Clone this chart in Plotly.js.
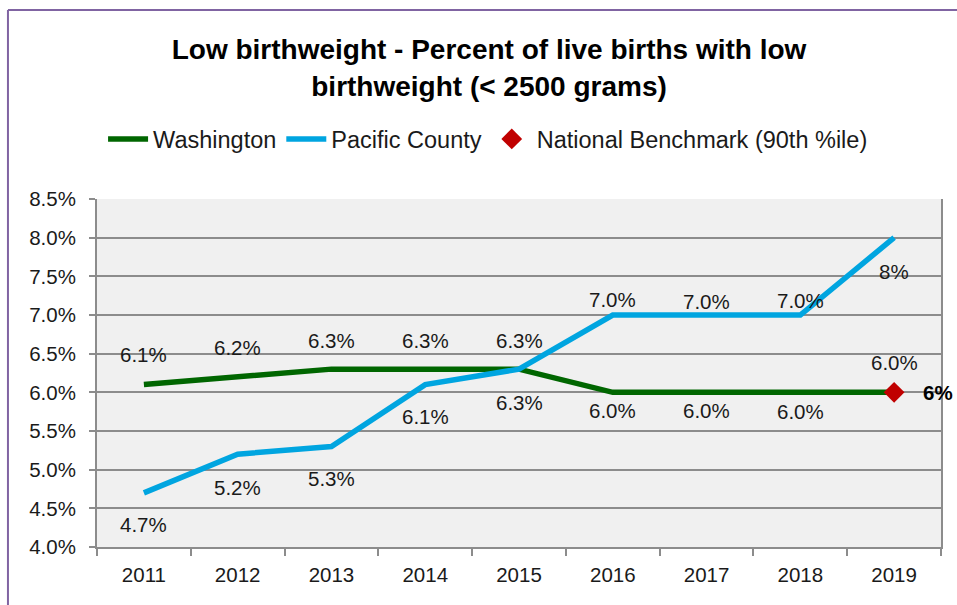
<!DOCTYPE html>
<html>
<head>
<meta charset="utf-8">
<script src="https://cdn.plot.ly/plotly-3.0.1.min.js"></script>
<style>
  html, body { margin: 0; padding: 0; background: #ffffff; }
  #chart { width: 957px; height: 605px; }
</style>
</head>
<body>
<div id="chart"></div>
<script>
// ---- data ----
const years = [2011, 2012, 2013, 2014, 2015, 2016, 2017, 2018, 2019];
const yearLabels = ["2011", "2012", "2013", "2014", "2015", "2016", "2017", "2018", "2019"];
const washington = [6.1, 6.2, 6.3, 6.3, 6.3, 6.0, 6.0, 6.0, 6.0];
const pacific = [4.7, 5.2, 5.3, 6.1, 6.3, 7.0, 7.0, 7.0, 8.0];
const washingtonLabels = ["6.1%", "6.2%", "6.3%", "6.3%", "6.3%", "6.0%", "6.0%", "6.0%", "6.0%"];
const pacificLabels = ["4.7%", "5.2%", "5.3%", "6.1%", "6.3%", "7.0%", "7.0%", "7.0%", "8%"];
const benchmarkYear = [2019];
const benchmarkValue = [6.0];
const benchmarkLabel = ["6%"];

// ---- label placement (style, not data) ----
const washingtonShift = [30, 29, 29, 29, 29, -18, -18, -19, 30];
const pacificShift = [-32, -33, -32, -32, -33, 16, 14, 15, -34];

const FONT = '"Liberation Sans", Arial, sans-serif';
const TXT = '#1a1a1a';
const LBL = 20.5;

const traces = [
  {
    x: years, y: washington, name: 'Washington', type: 'scatter', mode: 'lines',
    line: { color: '#006600', width: 5.5 }, hoverinfo: 'skip'
  },
  {
    x: years, y: pacific, name: 'Pacific County', type: 'scatter', mode: 'lines',
    line: { color: '#00a5e0', width: 5.5 }, hoverinfo: 'skip'
  },
  {
    x: benchmarkYear, y: benchmarkValue, name: 'National Benchmark (90th %ile)',
    type: 'scatter', mode: 'markers',
    marker: { symbol: 'diamond', color: '#c00000', size: 16 }, hoverinfo: 'skip'
  }
];

const annotations = [];
years.forEach((yr, i) => {
  annotations.push({ x: yr, y: washington[i], text: washingtonLabels[i], showarrow: false,
    yshift: washingtonShift[i], font: { family: FONT, size: LBL, color: TXT } });
  annotations.push({ x: yr, y: pacific[i], text: pacificLabels[i], showarrow: false,
    yshift: pacificShift[i], font: { family: FONT, size: LBL, color: TXT } });
});
benchmarkYear.forEach((yr, i) => {
  annotations.push({ x: yr, y: benchmarkValue[i], text: '<b>' + benchmarkLabel[i] + '</b>',
    showarrow: false, xanchor: 'left', xshift: 27, font: { family: FONT, size: LBL, color: '#000' } });
});

const layout = {
  width: 957, height: 605,
  paper_bgcolor: '#ffffff', plot_bgcolor: '#f0f0f0',
  margin: { l: 97, r: 16, t: 199, b: 58 },
  font: { family: FONT, color: TXT },
  showlegend: true,
  hovermode: false,
  title: {
    text: '<b>Low birthweight - Percent of live births with low<br>birthweight (< 2500 grams)</b>',
    font: { family: FONT, size: 28, color: '#000' },
    x: 0.511, xanchor: 'center', y: 0.902, yanchor: 'top'
  },
  legend: {
    orientation: 'h', xref: 'container', yref: 'container',
    x: 0.51, xanchor: 'center', y: 0.77, yanchor: 'middle',
    font: { family: FONT, size: 23.5, color: TXT },
    bgcolor: 'rgba(0,0,0,0)', itemwidth: 40, tracegroupgap: 0
  },
  xaxis: {
    type: 'linear', range: [2010.5, 2019.5],
    tickmode: 'array', tickvals: years, ticktext: yearLabels, ticks: '',
    minor: { ticks: 'outside', tick0: 2010.5, dtick: 1, ticklen: 7, tickwidth: 2, tickcolor: '#8c8c8c', showgrid: false },
    showline: true, linecolor: '#8c8c8c', linewidth: 2, mirror: false,
    showgrid: false, zeroline: false, fixedrange: true,
    tickfont: { family: FONT, size: LBL, color: TXT }, ticklabelstandoff: 8
  },
  yaxis: {
    range: [4.0, 8.5], dtick: 0.5, tick0: 4.0, tickformat: '.1f', ticksuffix: '%',
    ticks: 'outside', ticklen: 6, tickwidth: 2, tickcolor: '#8c8c8c',
    showline: true, linecolor: '#8c8c8c', linewidth: 2, mirror: true,
    showgrid: true, gridcolor: '#8c8c8c', gridwidth: 2, zeroline: false, fixedrange: true,
    tickfont: { family: FONT, size: LBL, color: TXT }, ticklabelstandoff: 9
  },
  annotations: annotations,
  shapes: [
    { type: 'line', xref: 'paper', yref: 'paper', x0: -0.1055, x1: 1.2, y0: 1.543, y1: 1.543,
      line: { color: '#8064a2', width: 2 } },
    { type: 'line', xref: 'paper', yref: 'paper', x0: -0.1055, x1: -0.1055, y0: 1.543, y1: -0.3,
      line: { color: '#8064a2', width: 2 } }
  ]
};

Plotly.newPlot('chart', traces, layout, { displayModeBar: false, staticPlot: true });
</script>
</body>
</html>
